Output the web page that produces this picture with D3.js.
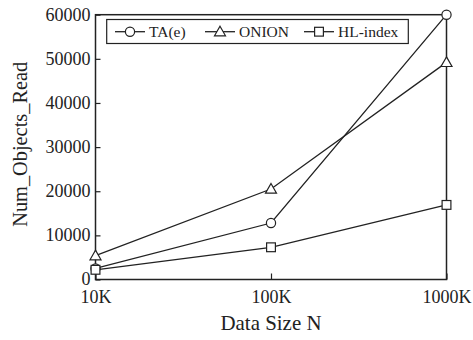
<!DOCTYPE html>
<html>
<head>
<meta charset="utf-8">
<script src="https://cdn.jsdelivr.net/npm/d3@7/dist/d3.min.js"></script>
<style>
  html, body { margin: 0; padding: 0; background: #fff; }
  svg { display: block; }
</style>
</head>
<body>
<svg id="chart" width="473" height="340"></svg>
<script>
// Data sizes (x) and objects read per method
const dataSizes = [10000, 100000, 1000000];
const xTickLabels = ["10K", "100K", "1000K"];
const yTicks = [0, 10000, 20000, 30000, 40000, 50000, 60000];
const taValues = [2500, 12800, 60000];
const onionValues = [5400, 20500, 49200];
const hlValues = [2200, 7300, 16900];
const seriesNames = ["TA(e)", "ONION", "HL-index"];
const seriesMarkers = ["circle", "triangle", "square"];

const series = [
  { name: seriesNames[0], marker: seriesMarkers[0], values: taValues },
  { name: seriesNames[1], marker: seriesMarkers[1], values: onionValues },
  { name: seriesNames[2], marker: seriesMarkers[2], values: hlValues }
];

const ink = "#222";
const serif = '"Liberation Serif", "Times New Roman", serif';
const svg = d3.select("#chart");
const plotLeft = 95.5, plotRight = 446.5, plotTop = 14.7, plotBottom = 279.5;

const x = d3.scaleLog().domain([10000, 1000000]).range([plotLeft, plotRight]);
const y = d3.scaleLinear().domain([0, 60000]).range([plotBottom, plotTop]);

// frame
svg.append("rect")
  .attr("x", plotLeft).attr("y", plotTop)
  .attr("width", plotRight - plotLeft).attr("height", plotBottom - plotTop)
  .attr("fill", "none").attr("stroke", ink).attr("stroke-width", 1.5);

// axes with inward ticks
const xAxis = svg.append("g")
  .attr("transform", `translate(0,${plotBottom})`)
  .call(d3.axisBottom(x).tickValues(dataSizes)
    .tickFormat((d, i) => xTickLabels[i])
    .tickSizeInner(-6).tickSizeOuter(0).tickPadding(10.5));
xAxis.attr("font-family", serif);
xAxis.select(".domain").remove();
xAxis.selectAll("line").attr("stroke", ink).attr("stroke-width", 1.2);
xAxis.selectAll("text").attr("font-size", 18).attr("fill", ink);

const yAxis = svg.append("g")
  .attr("transform", `translate(${plotLeft},0)`)
  .call(d3.axisLeft(y).tickValues(yTicks)
    .tickFormat(d3.format("d"))
    .tickSizeInner(-5).tickSizeOuter(0).tickPadding(5));
yAxis.attr("font-family", serif);
yAxis.select(".domain").remove();
yAxis.selectAll("line").attr("stroke", ink).attr("stroke-width", 1.2);
yAxis.selectAll("text").attr("font-size", 18).attr("fill", ink).attr("dy", "0.3em");

// axis titles
svg.append("text")
  .attr("x", 271).attr("y", 330)
  .attr("text-anchor", "middle")
  .attr("font-family", serif)
  .attr("font-size", 21)
  .attr("textLength", 101)
  .attr("lengthAdjust", "spacingAndGlyphs")
  .attr("fill", ink)
  .text("Data Size N");

svg.append("text")
  .attr("transform", "translate(26.7,144.3) rotate(-90)")
  .attr("text-anchor", "middle")
  .attr("font-family", serif)
  .attr("font-size", 21.5)
  .attr("textLength", 165)
  .attr("lengthAdjust", "spacingAndGlyphs")
  .attr("fill", ink)
  .text("Num_Objects_Read");

// marker drawing
function drawMarker(g, type, cx, cy) {
  if (type === "circle") {
    g.append("circle").attr("cx", cx).attr("cy", cy).attr("r", 4.6)
      .attr("fill", "#fff").attr("stroke", ink).attr("stroke-width", 1.2);
  } else if (type === "triangle") {
    const s = 5.5;
    g.append("path")
      .attr("d", `M${cx},${cy - s} L${cx + s},${cy + s * 0.75} L${cx - s},${cy + s * 0.75} Z`)
      .attr("fill", "#fff").attr("stroke", ink).attr("stroke-width", 1.2);
  } else {
    const s = 4.4;
    g.append("rect").attr("x", cx - s).attr("y", cy - s)
      .attr("width", 2 * s).attr("height", 2 * s)
      .attr("fill", "#fff").attr("stroke", ink).attr("stroke-width", 1.2);
  }
}

const line = d3.line()
  .x((d, i) => x(dataSizes[i]))
  .y(d => y(d));

series.forEach(s => {
  svg.append("path")
    .datum(s.values)
    .attr("d", line)
    .attr("fill", "none")
    .attr("stroke", ink)
    .attr("stroke-width", 1.3);
});
series.forEach(s => {
  const g = svg.append("g");
  s.values.forEach((v, i) => drawMarker(g, s.marker, x(dataSizes[i]), y(v)));
});

// legend
const legend = svg.append("g");
legend.append("rect")
  .attr("x", 106.7).attr("y", 19.5)
  .attr("width", 301.6).attr("height", 24)
  .attr("fill", "#fff").attr("stroke", ink).attr("stroke-width", 1.2);

const legendX = [115, 205, 304];
series.forEach((s, i) => {
  const lx = legendX[i], ly = 31.7;
  legend.append("line")
    .attr("x1", lx).attr("x2", lx + 30)
    .attr("y1", ly).attr("y2", ly)
    .attr("stroke", ink).attr("stroke-width", 1.3);
  drawMarker(legend, s.marker, lx + 15, ly);
  legend.append("text")
    .attr("x", lx + 34).attr("y", ly + 5.5)
    .attr("font-family", serif)
    .attr("font-size", 15.5)
    .attr("fill", ink)
    .text(s.name);
});
</script>
</body>
</html>
